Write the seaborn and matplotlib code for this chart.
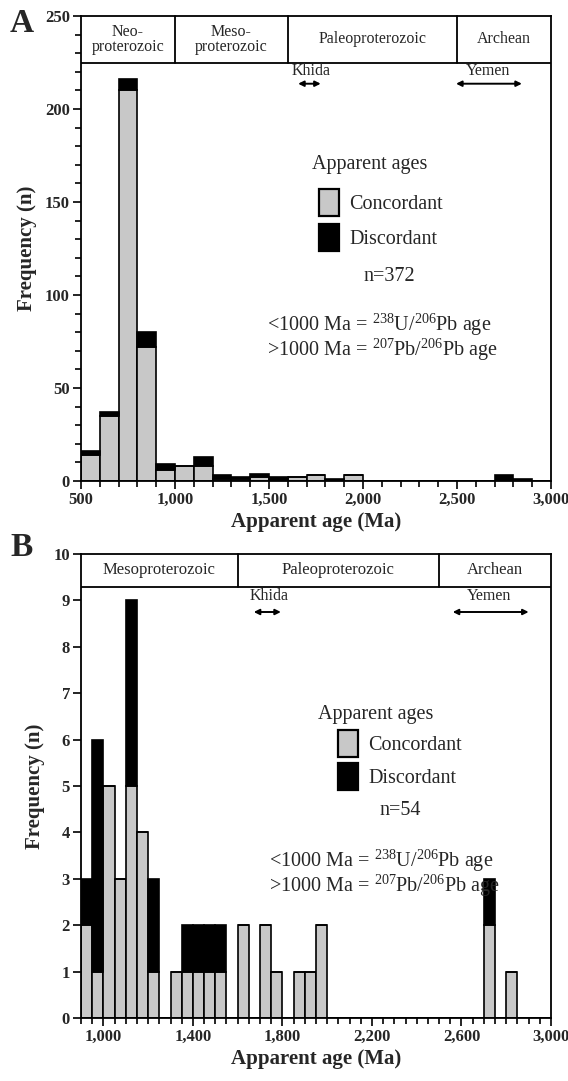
import numpy as np
import pandas as pd
import matplotlib
matplotlib.use("Agg")
import matplotlib.pyplot as plt
import seaborn as sns
from matplotlib.patches import Patch
from matplotlib.ticker import MultipleLocator, FuncFormatter

# panel A: 100 Ma bins (left edge), counts per bin
a_bins = [500, 600, 700, 800, 900, 1000, 1100, 1200, 1300, 1400, 1500, 1600, 1700, 1800, 1900, 2700, 2800]
a_conc = [14, 35, 210, 72, 6, 8, 8, 1, 1, 2, 0, 2, 3, 0, 3, 0, 0]
a_disc = [2, 2, 6, 8, 3, 0, 5, 2, 1, 2, 2, 0, 0, 1, 0, 3, 1]

# panel B: 50 Ma bins (left edge), counts per bin
b_bins = [900, 950, 1000, 1050, 1100, 1150, 1200, 1300, 1350, 1400, 1450, 1500, 1600, 1700, 1750, 1850, 1900, 1950, 2700, 2800]
b_conc = [2, 1, 5, 3, 5, 4, 1, 1, 1, 1, 1, 1, 2, 2, 1, 1, 1, 2, 2, 1]
b_disc = [1, 5, 0, 0, 4, 0, 2, 0, 1, 1, 1, 1, 0, 0, 0, 0, 0, 0, 1, 0]

eras_a = ["Neo-\nproterozoic", "Meso-\nproterozoic", "Paleoproterozoic", "Archean"]
eras_b = ["Mesoproterozoic", "Paleoproterozoic", "Archean"]

GREY = "#c8c8c8"

sns.set_style("ticks")
plt.rcParams["font.family"] = ["Liberation Serif", "DejaVu Serif"]
plt.rcParams["mathtext.fontset"] = "custom"
plt.rcParams["mathtext.rm"] = "Liberation Serif"
plt.rcParams["axes.linewidth"] = 1.3


def long_table(bins, conc, disc, width):
    rows = []
    for b, c, d in zip(bins, conc, disc):
        rows.append((b + width / 2, "Concordant", c))
        rows.append((b + width / 2, "Discordant", d))
    return pd.DataFrame(rows, columns=["age", "status", "n"])


def draw_panel(ax, df, width, xlim, ymax):
    sns.histplot(data=df, x="age", weights="n", hue="status",
                 hue_order=["Discordant", "Concordant"],
                 palette={"Concordant": GREY, "Discordant": "black"},
                 multiple="stack", binwidth=width, binrange=xlim,
                 alpha=1, edgecolor="black", linewidth=1.2,
                 legend=False, ax=ax)
    ax.set_xlim(*xlim)
    ax.set_ylim(0, ymax)
    for s in ax.spines.values():
        s.set_visible(True)
        s.set_color("black")
    ax.tick_params(which="major", direction="out", length=6, width=1.2,
                   labelsize=12, color="black", pad=2)
    ax.tick_params(which="minor", direction="out", length=4, width=1.2, color="black")
    ax.xaxis.set_major_formatter(FuncFormatter(lambda v, p: f"{v:,.0f}"))
    ax.set_xlabel("Apparent age (Ma)", fontsize=15, fontweight="bold", labelpad=3)
    ax.set_ylabel("Frequency (n)", fontsize=15, fontweight="bold", labelpad=6)


def era_box(ax, y0, y1, bounds, names, centers, fs):
    ax.axhline(y0, color="black", lw=1.3)
    for b in bounds:
        ax.plot([b, b], [y0, y1], color="black", lw=1.3, clip_on=False)
    for name, c in zip(names, centers):
        ax.text(c, (y0 + y1) / 2, name, ha="center", va="center", fontsize=fs,
                linespacing=0.9)


def arrow(ax, x0, x1, y):
    ax.annotate("", xy=(x1, y), xytext=(x0, y),
                arrowprops=dict(arrowstyle="<|-|>", color="black", lw=1.4,
                                mutation_scale=8, shrinkA=0, shrinkB=0))


def notes(ax, xy_title, xy_leg, spacing, xy_n, n, xy_f):
    ax.text(xy_title[0], xy_title[1], "Apparent ages", transform=ax.transAxes,
            ha="center", va="center", fontsize=14.5)
    handles = [Patch(facecolor=GREY, edgecolor="black", lw=1.6, label="Concordant"),
               Patch(facecolor="black", edgecolor="black", lw=1.6, label="Discordant")]
    ax.legend(handles=handles, frameon=False,
              loc="upper left", bbox_to_anchor=xy_leg, fontsize=14.5,
              handlelength=1.0, handleheight=1.7,
              handletextpad=0.5, labelspacing=spacing, borderpad=0, borderaxespad=0)
    ax.text(xy_n[0], xy_n[1], f"n={n}", transform=ax.transAxes, ha="center",
            va="center", fontsize=14.5)
    ax.text(xy_f[0], xy_f[1],
            r"<1000 Ma = $^{\mathrm{238}}$U/$^{\mathrm{206}}$Pb age",
            transform=ax.transAxes, ha="left", va="center", fontsize=14.5)
    ax.text(xy_f[0], xy_f[1] - 0.054,
            r">1000 Ma = $^{\mathrm{207}}$Pb/$^{\mathrm{206}}$Pb age",
            transform=ax.transAxes, ha="left", va="center", fontsize=14.5)


def bold_ticks(ax):
    for lab in ax.get_xticklabels() + ax.get_yticklabels():
        lab.set_fontweight("bold")


fig = plt.figure(figsize=(5.68, 10.81), dpi=100)

# A
ax1 = fig.add_axes([81 / 568, 1 - 481 / 1081, 470 / 568, 465 / 1081])
draw_panel(ax1, long_table(a_bins, a_conc, a_disc, 100), 100, (500, 3000), 250)
ax1.xaxis.set_major_locator(MultipleLocator(500))
ax1.xaxis.set_minor_locator(MultipleLocator(100))
ax1.yaxis.set_major_locator(MultipleLocator(50))
ax1.yaxis.set_minor_locator(MultipleLocator(10))
era_box(ax1, 225, 250, [1000, 1600, 2500], eras_a, [750, 1300, 2050, 2750], 11.5)
ax1.text(1726, 218.2, "Khida", ha="center", va="baseline", fontsize=11.5)
ax1.text(2664, 218.2, "Yemen", ha="center", va="baseline", fontsize=11.5)
arrow(ax1, 1655, 1775, 213.6)
arrow(ax1, 2495, 2845, 213.6)
notes(ax1, (0.615, 0.680), (0.506, 0.628), 0.4, (0.655, 0.439), 372, (0.395, 0.337))
bold_ticks(ax1)

# B
ax2 = fig.add_axes([81 / 568, 1 - 1018 / 1081, 470 / 568, 464 / 1081])
draw_panel(ax2, long_table(b_bins, b_conc, b_disc, 50), 50, (900, 3000), 10)
ax2.set_xticks([1000, 1400, 1800, 2200, 2600, 3000])
ax2.xaxis.set_minor_locator(MultipleLocator(50))
ax2.yaxis.set_major_locator(MultipleLocator(1))
era_box(ax2, 9.29, 10, [1600, 2500], eras_b, [1250, 2050, 2750], 12)
ax2.text(1740, 9.0, "Khida", ha="center", va="baseline", fontsize=11.5)
ax2.text(2722, 9.0, "Yemen", ha="center", va="baseline", fontsize=11.5)
arrow(ax2, 1672, 1793, 8.75)
arrow(ax2, 2561, 2900, 8.75)
notes(ax2, (0.626, 0.655), (0.547, 0.621), 0.28, (0.679, 0.448), 54, (0.400, 0.339))
bold_ticks(ax2)

fig.text(10 / 568, 1 - 24 / 1081, "A", fontsize=24, fontweight="bold", va="center")
fig.text(10 / 568, 1 - 548 / 1081, "B", fontsize=24, fontweight="bold", va="center")

plt.savefig("out.png", dpi=100)
